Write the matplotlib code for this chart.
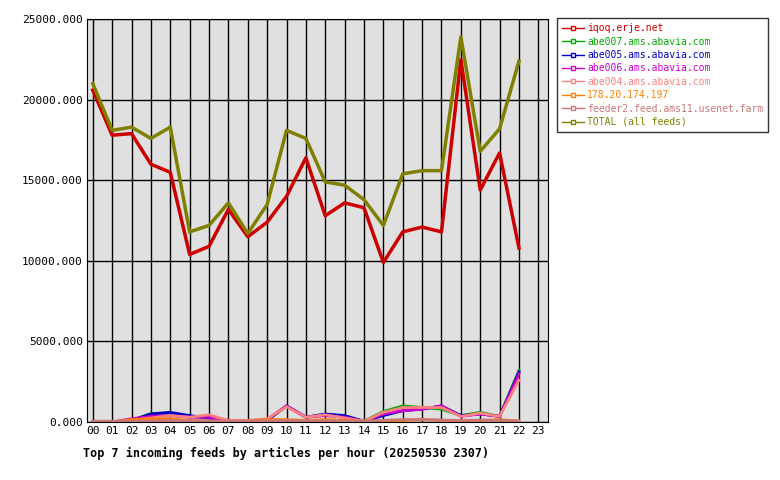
import matplotlib.pyplot as plt
from matplotlib.lines import Line2D

hours = ["%02d" % h for h in range(24)]

iqoq = [20600, 17800, 17900, 16000, 15500, 10400, 10900, 13200, 11500, 12400, 14000, 16400,
        12800, 13600, 13300, 9900, 11800, 12100, 11800, 22500, 14400, 16700, 10800]
abe007 = [0, 0, 100, 530, 560, 350, 250, 50, 50, 100, 1000, 300,
          450, 350, 50, 650, 1000, 900, 800, 400, 600, 350, 3200]
abe005 = [0, 0, 100, 500, 600, 400, 250, 50, 50, 100, 1000, 300,
          500, 400, 50, 400, 700, 800, 1000, 400, 500, 350, 3100]
abe006 = [0, 0, 200, 350, 400, 300, 300, 50, 50, 150, 1000, 300,
          400, 300, 50, 500, 700, 800, 1000, 350, 500, 350, 3000]
abe004 = [0, 0, 100, 250, 400, 300, 450, 100, 100, 200, 950, 300,
          450, 250, 50, 600, 900, 900, 900, 350, 550, 350, 2600]
ip178 = [0, 0, 150, 200, 200, 100, 50, 50, 50, 150, 150, 100,
         150, 100, 50, 50, 100, 150, 100, 50, 100, 150, 50]
feeder2 = [50, 50, 50, 80, 100, 80, 80, 60, 60, 80, 100, 80,
           80, 80, 60, 100, 150, 150, 120, 100, 120, 100, 80]
total = [21000, 18100, 18300, 17600, 18300, 11800, 12200, 13600, 11700, 13500, 18100, 17600,
         14900, 14700, 13800, 12200, 15400, 15600, 15600, 23900, 16800, 18200, 22400]

series = [
    ("iqoq.erje.net", iqoq, "#cc0000"),
    ("abe007.ams.abavia.com", abe007, "#00aa00"),
    ("abe005.ams.abavia.com", abe005, "#0000cc"),
    ("abe006.ams.abavia.com", abe006, "#cc00cc"),
    ("abe004.ams.abavia.com", abe004, "#ff8080"),
    ("178.20.174.197", ip178, "#ff8000"),
    ("feeder2.feed.ams11.usenet.farm", feeder2, "#cc7777"),
    ("TOTAL (all feeds)", total, "#808000"),
]

plt.rcParams['font.family'] = 'DejaVu Sans Mono'
plt.rcParams['font.size'] = 8

fig = plt.figure(figsize=(7.8, 4.8), dpi=100)
ax = fig.add_axes([0.1115, 0.1208, 0.5911, 0.8392])
ax.set_facecolor("#e0e0e0")

x = list(range(len(iqoq)))
for name, vals, col in series:
    lw = 2.5 if name in ("iqoq.erje.net", "TOTAL (all feeds)") else 2
    ax.plot(x, vals, color=col, lw=lw)

ax.set_xlim(-0.3, 23.5)
ax.set_ylim(0, 25000)
ax.set_xticks(range(24))
ax.set_xticklabels(hours)
ax.set_yticks(range(0, 25001, 5000))
ax.set_yticklabels(["%d.000" % v for v in range(0, 25001, 5000)])
ax.grid(True, color="black", lw=1)
ax.set_axisbelow(True)
ax.tick_params(length=0, pad=3)

handles = [Line2D([0], [0], color=c, lw=1, marker="s", markersize=3,
                  markerfacecolor="white", markevery=[1]) for _, _, c in series]
leg = fig.legend(handles, [s[0] for s in series], loc="upper left",
                 bbox_to_anchor=(0.714, 0.962), frameon=True, fancybox=False,
                 handlelength=2.3, handletextpad=0.3, labelspacing=0.35,
                 borderpad=0.5, borderaxespad=0, fontsize=7)
leg.get_frame().set_edgecolor("black")
for t, (_, _, c) in zip(leg.get_texts(), series):
    t.set_color(c)

fig.text(0.107, 0.048, "Top 7 incoming feeds by articles per hour (20250530 2307)",
         fontsize=8.5, fontweight="bold")

fig.savefig("out.png", dpi=100)
